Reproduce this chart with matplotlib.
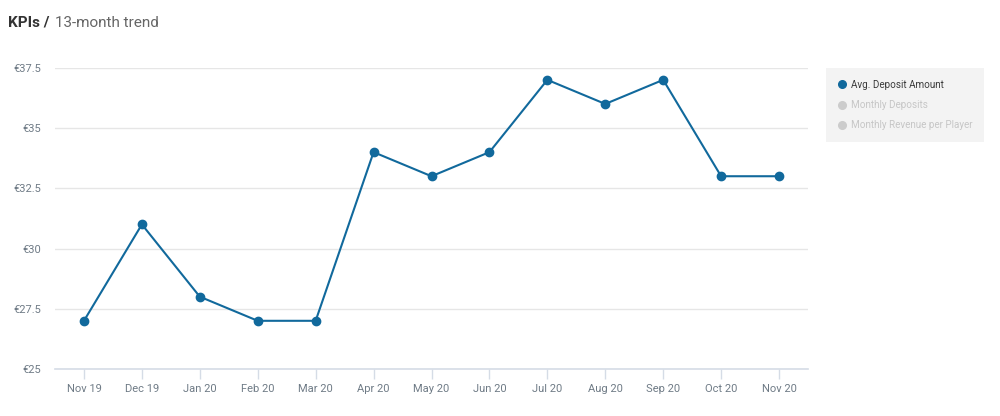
import matplotlib.pyplot as plt
import numpy as np
from matplotlib.lines import Line2D

plt.rcParams["font.family"] = ["Roboto", "DejaVu Sans"]

# Datos
meses = ["Nov 19", "Dec 19", "Jan 20", "Feb 20", "Mar 20", "Apr 20", "May 20",
         "Jun 20", "Jul 20", "Aug 20", "Sep 20", "Oct 20", "Nov 20"]
deposito_medio = [27, 31, 28, 27, 27, 34, 33, 34, 37, 36, 37, 33, 33]
yticks = [25, 27.5, 30, 32.5, 35, 37.5]
ytick_lbl = ["€25", "€27.5", "€30", "€32.5", "€35", "€37.5"]
series = ["Avg. Deposit Amount", "Monthly Deposits", "Monthly Revenue per Player"]

# Estilo
CLINE = "#11699c"
CTXT = "#6f7b86"
CGRID = "#e6e6e6"
CAXIS = "#d5dce6"

fig = plt.figure(figsize=(10, 4.16), dpi=100, facecolor="white")
ax = fig.add_axes([0.055, 0.113, 0.753, 0.724])

x = np.arange(len(meses))
ax.plot(x, deposito_medio, color=CLINE, lw=1.5, marker="o", ms=6, zorder=3)

ax.set_xlim(-0.5, len(meses) - 0.5)
ax.set_ylim(25, 37.5)
ax.set_xticks(x)
ax.set_xticklabels(meses)
ax.set_yticks(yticks)
ax.set_yticklabels(ytick_lbl)

ax.grid(axis="y", color=CGRID, lw=1)
ax.set_axisbelow(True)
for s in ["top", "right", "left"]:
    ax.spines[s].set_visible(False)
ax.spines["bottom"].set_color(CAXIS)
ax.spines["bottom"].set_linewidth(1.2)
ax.tick_params(axis="x", colors=CAXIS, length=7, width=1, labelsize=8, labelcolor=CTXT, pad=4)
ax.tick_params(axis="y", length=0, labelsize=8, labelcolor=CTXT, pad=10)

# Título
fig.text(0.008, 0.945, "KPIs /", fontsize=11, fontweight="bold", color="#333333", va="center")
fig.text(0.055, 0.945, "13-month trend", fontsize=11, color="#666666", va="center")

# Leyenda
handles = [
    Line2D([], [], ls="none", marker="o", ms=5.5, color=CLINE),
    Line2D([], [], ls="none", marker="o", ms=5.5, color="#cccccc"),
    Line2D([], [], ls="none", marker="o", ms=5.5, color="#cccccc"),
]
leg = fig.legend(handles, series, loc="upper left", bbox_to_anchor=(0.826, 0.837),
                 fontsize=7.1, frameon=True, facecolor="#f3f3f3", edgecolor="none",
                 framealpha=1, fancybox=False, handletextpad=0.5, labelspacing=1.05,
                 handlelength=0.8, borderpad=1.2, borderaxespad=0)
for t, c in zip(leg.get_texts(), ["#3a3a3a", "#c6c6c6", "#c6c6c6"]):
    t.set_color(c)

fig.savefig("out.png", dpi=100, facecolor="white")
